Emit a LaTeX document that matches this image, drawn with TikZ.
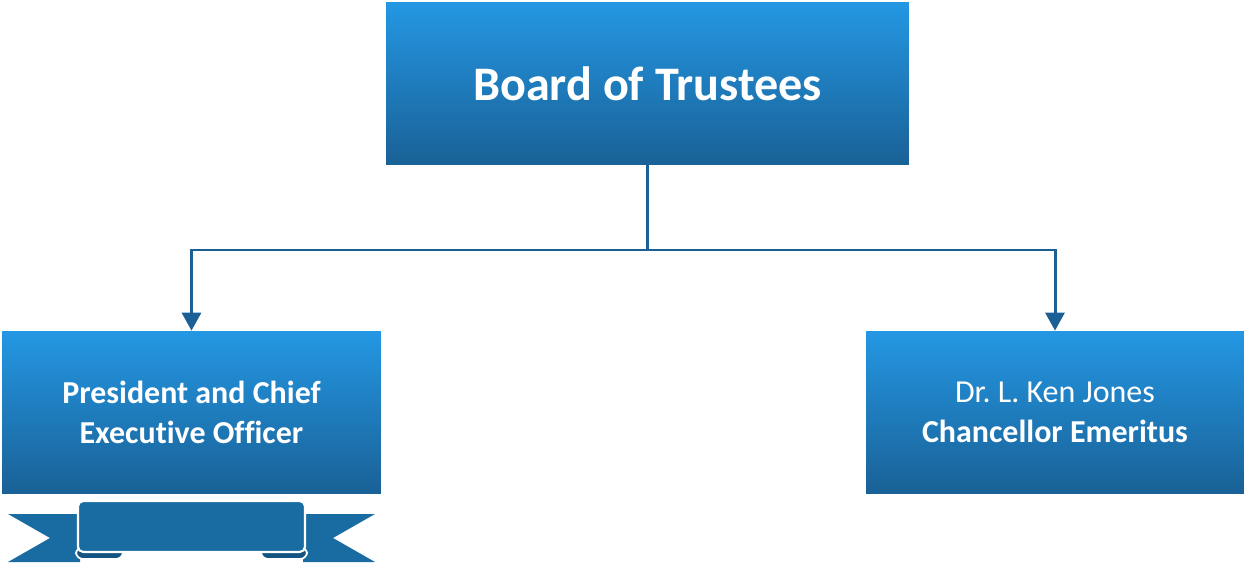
\documentclass[tikz,border=0pt]{standalone}
\usepackage{fontspec}
\setmainfont{Carlito}[Ligatures=NoCommon]
\frenchspacing
\usetikzlibrary{arrows.meta}
\definecolor{boxtop}{RGB}{36,151,227}
\definecolor{boxbot}{RGB}{25,97,150}
\definecolor{linecol}{RGB}{27,96,148}
\definecolor{ribbon}{RGB}{24,108,162}
\definecolor{ribbondark}{RGB}{20,84,130}
\tikzset{
  box/.style={rectangle,inner sep=0pt,top color=boxtop,bottom color=boxbot,
    text=white,align=center,minimum height=3.26cm},
  conn/.style={draw=linecol,line width=1.7pt},
  tip/.style={-{Triangle[length=0.36cm,width=0.38cm]}},
}
\begin{document}
\begin{tikzpicture}[x=0.02cm,y=-0.02cm]
    \useasboundingbox (0,0) rectangle (1245,564);
    % boxes
    \node[box,minimum width=10.46cm,font=\bfseries\fontsize{27.4}{32}\selectfont] (board) at (647.5,83.5) {Board of Trustees};
    \node[box,minimum width=7.58cm,font=\fontsize{18.2}{22.7}\selectfont] (pres) at (191.5,412.5) {\bfseries President and Chief\\ \bfseries Executive Officer};
    \node[box,minimum width=7.56cm,font=\fontsize{18.2}{22.7}\selectfont] (chan) at (1055,412.5) {Dr. L. Ken Jones\\ \bfseries Chancellor Emeritus};
    % connectors
    \coordinate (mid) at (647.5,250);
    \draw[conn] (board.south) -- (mid);
    \draw[conn,tip] (mid) -| (pres.north);
    \draw[conn,tip] (mid) -| (chan.north);
    % ribbon under the president
    \fill[ribbon] (8,514) -- (80,514) -- (80,562) -- (8,562) -- (50,538) -- cycle;
    \fill[ribbon] (375,514) -- (303,514) -- (303,562) -- (375,562) -- (333,538) -- cycle;
    \filldraw[ribbondark,draw=white,line width=1pt,rounded corners=4pt] (76,547) rectangle (123,559);
    \filldraw[ribbondark,draw=white,line width=1pt,rounded corners=4pt] (261,547) rectangle (307,559);
    \filldraw[ribbon,draw=white,line width=1.2pt,rounded corners=3pt] (78,501) rectangle (305,552);
\end{tikzpicture}
\end{document}
